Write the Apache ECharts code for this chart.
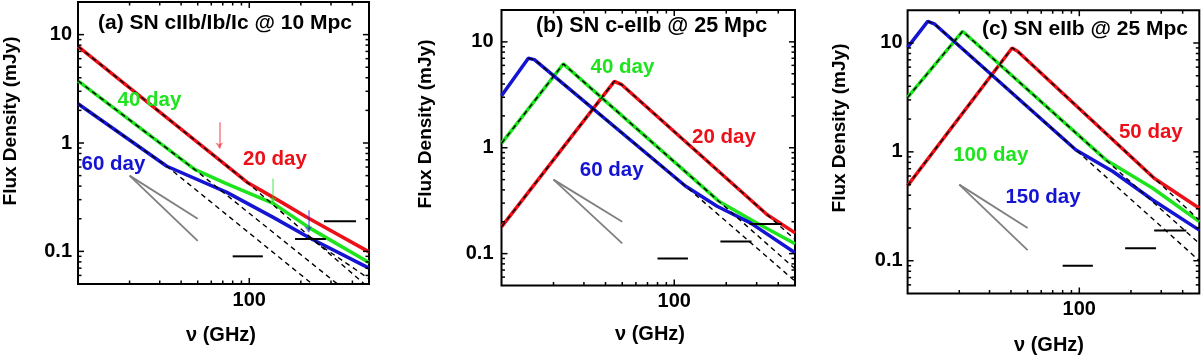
<!DOCTYPE html>
<html>
<head>
<meta charset="utf-8">
<script src="https://cdn.jsdelivr.net/npm/echarts@6/dist/echarts.min.js"></script>
<style>
html,body{margin:0;padding:0;background:#fff;}
#chart{width:1203px;height:356px;}
</style>
</head>
<body>
<div id="chart"></div>
<script>
// ---------------- DATA ----------------
const xRange = [10, 500];          // GHz
const yRange = [0.05, 20];         // mJy
const xTickValues = [100];
const xTickLabels = ['100'];
const yTickValues = [0.1, 1, 10];
const yTickLabels = ['0.1', '1', '10'];
const xMinorTicks = [20, 30, 40, 50, 60, 70, 80, 90, 200, 300, 400];
const yMinorTicks = [0.06, 0.07, 0.08, 0.09, 0.2, 0.3, 0.4, 0.5, 0.6, 0.7, 0.8, 0.9, 2, 3, 4, 5, 6, 7, 8, 9];

const titles = ['(a) SN cIIb/Ib/Ic @ 10 Mpc', '(b) SN c-eIIb @ 25 Mpc', '(c) SN eIIb @ 25 Mpc'];
const dayLabelsA = ['20 day', '40 day', '60 day'];
const dayLabelsB = ['20 day', '40 day', '60 day'];
const dayLabelsC = ['50 day', '100 day', '150 day'];

// panel (a)
const redA   = [[10,7.8],[97,0.435],[138,0.315],[218,0.205],[500,0.099]];
const greenA = [[10,3.75],[48,0.57],[74,0.42],[138,0.277],[227,0.163],[500,0.079]];
const blueA  = [[10,2.3],[33,0.61],[74,0.35],[138,0.206],[227,0.132],[500,0.07]];
const redDashA   = [[10,7.8],[97,0.435],[470,0.05]];
const greenDashA = [[10,3.75],[48,0.57],[327,0.05]];
const blueDashA  = [[10,2.3],[33,0.61],[233,0.05]];
const blueDash2A = [[221,0.135],[500,0.056]];
const arrowFreqA = [66.8, 138, 221];
const arrowTopA  = [1.55, 0.47, 0.239];
const arrowTipA  = [0.89, 0.28, 0.15];

// panel (b)
const redB   = [[10,0.179],[45,4.24],[49.7,3.94],[344,0.234],[500,0.157]];
const greenB = [[10,1.1],[22.8,6.2],[181,0.313],[288,0.202],[500,0.124]];
const blueB  = [[10,3.1],[14.3,7.0],[15.5,6.8],[116,0.435],[177,0.28],[276,0.195],[500,0.102]];
const redDashB   = [[10,0.179],[45,4.24],[49.7,3.94],[344,0.234],[500,0.136]];
const greenDashB = [[10,1.1],[22.8,6.2],[181,0.313],[500,0.072]];
const blueDashB  = [[14.3,7.0],[15.5,6.8],[116,0.435],[500,0.055]];

// panel (c)
const redC   = [[10,0.49],[40.6,9.0],[43.7,8.4],[273,0.573],[500,0.303]];
const greenC = [[10,3.16],[20.9,12.8],[143,0.843],[268,0.463],[500,0.229]];
const blueC  = [[10,9.1],[13.1,15.8],[14.3,15.0],[95.7,1.04],[157,0.66],[268,0.361],[500,0.191]];
const redDashC   = [[10,0.49],[40.6,9.0],[43.7,8.4],[273,0.573],[500,0.236]];
const greenDashC = [[10,3.16],[20.9,12.8],[143,0.843],[500,0.144]];
const blueDashC  = [[13.1,15.8],[14.3,15.0],[95.7,1.04],[500,0.1]];

// spectral-index guide lines (common to all panels)
const grayStart = [20, 0.5];
const grayEnds  = [[50, 0.2], [50, 0.125]];
// sensitivity limits: [fLow, fHigh, flux]
const limits = [[80,120,0.09],[185,280,0.13],[273,420,0.19]];

// ---------------- STYLE / LAYOUT ----------------
const RED = '#ec1018', GREEN = '#1ee41e', BLUE = '#1414d2';
const FONT = "'Liberation Sans', Arial, Helvetica, sans-serif";
const grids = [
  {left: 78,    top: 2,    width: 291,   height: 282},
  {left: 501.5, top: 10,   width: 293.5, height: 275.5},
  {left: 907.6, top: 10.2, width: 291.7, height: 283.3}
];
const labelMargins = [6, 8, 5];

const panels = [
  {red: redA, green: greenA, blue: blueA, dashes: [redDashA, greenDashA, blueDashA, blueDash2A], labels: dayLabelsA},
  {red: redB, green: greenB, blue: blueB, dashes: [redDashB, greenDashB, blueDashB], labels: dayLabelsB},
  {red: redC, green: greenC, blue: blueC, dashes: [redDashC, greenDashC, blueDashC], labels: dayLabelsC}
];

// text placements (pixels)
const titlePos = [[225, 23, 21], [651.5, 26, 21.5], [1085, 29.5, 21]];
const dayPos = [
  [[275, 159], [149.4, 100.5], [113.5, 164]],
  [[724, 137], [622.5, 67], [611.7, 170.5]],
  [[1150.8, 132], [990.8, 155.5], [1043, 197]]
];
const yNamePos = [[10.5, 121], [426, 124], [839.5, 128]];
const xNamePos = [[221, 335], [650, 334], [1049, 345]];

function fmt(vals, labs) {
  return function (v) {
    for (let i = 0; i < vals.length; i++) {
      if (Math.abs(Math.log10(v) - Math.log10(vals[i])) < 0.01) return labs[i];
    }
    return '';
  };
}

const xAxes = [], yAxes = [], series = [], graphics = [];

grids.forEach(function (g, gi) {
  xAxes.push({
    type: 'log', logBase: 10, gridIndex: gi, min: xRange[0], max: xRange[1],
    axisLine: {show: false}, axisTick: {show: false}, splitLine: {show: false},
    minorTick: {show: false},
    axisLabel: {formatter: fmt(xTickValues, xTickLabels), fontSize: 20, fontWeight: 'bold',
      fontFamily: FONT, color: '#000', margin: 6, showMinLabel: true, showMaxLabel: true}
  });
  yAxes.push({
    type: 'log', logBase: 10, gridIndex: gi, min: yRange[0], max: yRange[1],
    axisLine: {show: false}, axisTick: {show: false}, splitLine: {show: false},
    minorTick: {show: false},
    axisLabel: {formatter: fmt(yTickValues, yTickLabels), fontSize: 20, fontWeight: 'bold',
      fontFamily: FONT, color: '#000', margin: labelMargins[gi]}
  });

  const p = panels[gi];
  function ln(data, color, width, type, z) {
    return {type: 'line', xAxisIndex: gi, yAxisIndex: gi, data: data, showSymbol: false, symbol: 'none',
      lineStyle: {color: color, width: width, type: type || 'solid', cap: 'butt'}, z: z, silent: true, animation: false};
  }
  // colored model curves
  series.push(ln(p.red, RED, 3.5, 'solid', 2));
  series.push(ln(p.green, GREEN, 3.5, 'solid', 2));
  series.push(ln(p.blue, BLUE, 3.5, 'solid', 2));
  // gray guide lines
  grayEnds.forEach(function (e) { series.push(ln([grayStart, e], '#808080', 1.8, 'solid', 3)); });
  // sensitivity limits
  limits.forEach(function (l) { series.push(ln([[l[0], l[2]], [l[1], l[2]]], '#000', 2, 'solid', 3)); });
  // dashed curves
  p.dashes.forEach(function (d) { series.push(ln(d, '#000', 1.4, [5, 4], 4)); });

  // tick marks (major + minor) on all four sides
  const tickData = [];
  xTickValues.forEach(function (v) { tickData.push([v, 1, 0, 1]); });
  xMinorTicks.forEach(function (v) { tickData.push([v, 1, 0, 0]); });
  yTickValues.forEach(function (v) { tickData.push([100, v, 1, 1]); });
  yMinorTicks.forEach(function (v) { tickData.push([100, v, 1, 0]); });
  series.push({
    type: 'custom', xAxisIndex: gi, yAxisIndex: gi, data: tickData, clip: false, silent: true, z: 6,
    encode: {x: 0, y: 1}, animation: false,
    renderItem: function (params, api) {
      const cs = params.coordSys;
      const kind = api.value(2), major = api.value(3);
      const len = major ? 6 : 3.5;
      const pt = api.coord([api.value(0), api.value(1)]);
      const st = {stroke: '#000', lineWidth: 1.5};
      if (kind === 0) {
        return {type: 'group', children: [
          {type: 'line', shape: {x1: pt[0], y1: cs.y + cs.height, x2: pt[0], y2: cs.y + cs.height - len}, style: st},
          {type: 'line', shape: {x1: pt[0], y1: cs.y, x2: pt[0], y2: cs.y + len}, style: st}
        ]};
      }
      return {type: 'group', children: [
        {type: 'line', shape: {x1: cs.x, y1: pt[1], x2: cs.x + len, y2: pt[1]}, style: st},
        {type: 'line', shape: {x1: cs.x + cs.width, y1: pt[1], x2: cs.x + cs.width - len, y2: pt[1]}, style: st}
      ]};
    }
  });

  // texts
  graphics.push({type: 'text', x: titlePos[gi][0], y: titlePos[gi][1], silent: true, z: 100,
    style: {text: titles[gi], fill: '#000', font: 'bold ' + titlePos[gi][2] + 'px ' + FONT,
      align: 'center', verticalAlign: 'middle', textAlign: 'center', textVerticalAlign: 'middle'}});
  const cols = [RED, GREEN, BLUE];
  p.labels.forEach(function (t, k) {
    graphics.push({type: 'text', x: dayPos[gi][k][0], y: dayPos[gi][k][1], silent: true, z: 100,
      style: {text: t, fill: cols[k], font: 'bold 20.5px ' + FONT,
        align: 'center', verticalAlign: 'middle', textAlign: 'center', textVerticalAlign: 'middle'}});
  });
  graphics.push({type: 'text', x: yNamePos[gi][0], y: yNamePos[gi][1], rotation: Math.PI / 2, silent: true, z: 100,
    style: {text: 'Flux Density (mJy)', fill: '#000', font: 'bold 19px ' + FONT,
      align: 'center', verticalAlign: 'middle', textAlign: 'center', textVerticalAlign: 'middle'}});
  graphics.push({type: 'text', x: xNamePos[gi][0], y: xNamePos[gi][1], silent: true, z: 100,
    style: {text: '\u03bd (GHz)', fill: '#000', font: 'bold 20px ' + FONT,
      align: 'center', verticalAlign: 'middle', textAlign: 'center', textVerticalAlign: 'middle'}});
});

// arrows in panel (a)
const arrowCols = [RED, GREEN, BLUE];
series.push({
  type: 'lines', coordinateSystem: 'cartesian2d', xAxisIndex: 0, yAxisIndex: 0, silent: true, z: 5,
  symbol: ['none', 'arrow'], symbolSize: 6, animation: false,
  data: arrowFreqA.map(function (f, i) {
    return {coords: [[f, arrowTopA[i]], [f, arrowTipA[i]]], lineStyle: {color: arrowCols[i], width: 1.6}};
  })
});

const chart = echarts.init(document.getElementById('chart'), null, {renderer: 'canvas'});
chart.setOption({
  animation: false,
  backgroundColor: '#fff',
  grid: grids.map(function (g) {
    return {left: g.left, top: g.top, width: g.width, height: g.height, show: true,
      borderColor: '#000', borderWidth: 2, backgroundColor: 'transparent',
      containLabel: false, outerBoundsMode: 'none'};
  }),
  xAxis: xAxes,
  yAxis: yAxes,
  series: series,
  graphic: graphics
});
</script>
</body>
</html>
